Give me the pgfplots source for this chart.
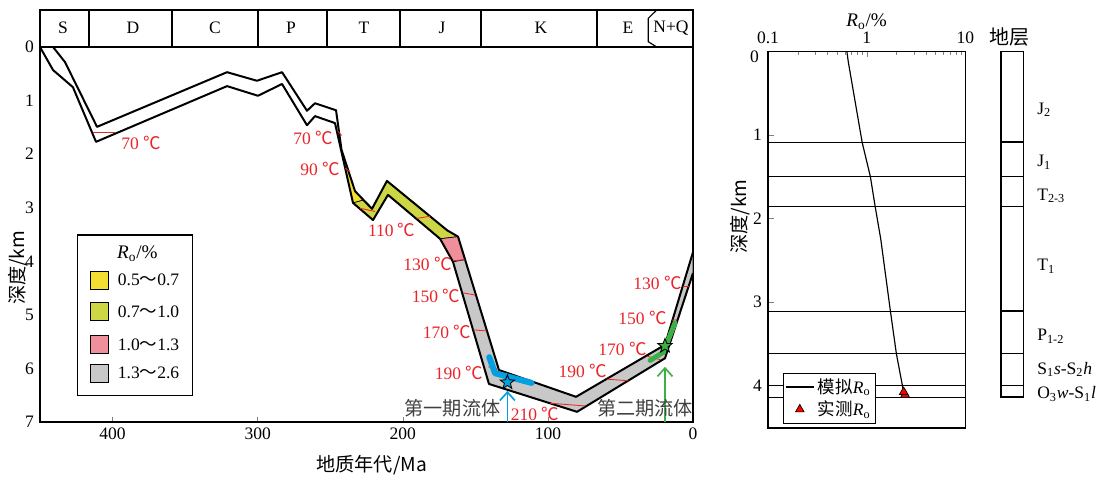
\documentclass[border=0pt]{standalone}
\usepackage{fontspec}
\setmainfont{Liberation Serif}
\newfontfamily\cjk{Noto Sans CJK SC}
\usepackage{pgfplots}
\pgfplotsset{compat=1.18}
\usetikzlibrary{arrows.meta}

\definecolor{ryel}{RGB}{245,222,50}
\definecolor{rolive}{RGB}{205,214,68}
\definecolor{rpink}{RGB}{238,143,155}
\definecolor{rgrey}{RGB}{200,200,200}
\definecolor{tred}{RGB}{235,35,40}
\definecolor{fblue}{RGB}{0,160,225}
\definecolor{fgreen}{RGB}{60,175,70}

\newcommand{\dc}{\ {\cjk ℃}}
\newcommand{\Ro}{\textit{R}\textsubscript{o}}

% filled five-point star
\pgfdeclareplotmark{fstar}{%
  \pgfpathmoveto{\pgfpointpolar{90}{\pgfplotmarksize}}%
  \pgfpathlineto{\pgfpointpolar{126}{0.42\pgfplotmarksize}}%
  \pgfpathlineto{\pgfpointpolar{162}{\pgfplotmarksize}}%
  \pgfpathlineto{\pgfpointpolar{198}{0.42\pgfplotmarksize}}%
  \pgfpathlineto{\pgfpointpolar{234}{\pgfplotmarksize}}%
  \pgfpathlineto{\pgfpointpolar{270}{0.42\pgfplotmarksize}}%
  \pgfpathlineto{\pgfpointpolar{306}{\pgfplotmarksize}}%
  \pgfpathlineto{\pgfpointpolar{342}{0.42\pgfplotmarksize}}%
  \pgfpathlineto{\pgfpointpolar{18}{\pgfplotmarksize}}%
  \pgfpathlineto{\pgfpointpolar{54}{0.42\pgfplotmarksize}}%
  \pgfpathclose\pgfusepathqfillstroke}

\begin{document}
\fontsize{10.5}{12}\selectfont
\begin{tikzpicture}[every node/.style={font=\fontsize{10.5}{12}\selectfont}]
\path (0,0) rectangle (662.4pt,286.8pt);

% ---------------- burial history ----------------
\begin{axis}[
  at={(24pt,33.6pt)}, anchor=south west, scale only axis,
  width=391.8pt, height=247.2pt,
  xmin=0, xmax=450, x dir=reverse,
  ymin=-0.691, ymax=7, y dir=reverse,
  xtick={0,100,200,300,400}, ytick={0,1,...,7},
  xtick pos=left, xticklabel pos=left, ytick pos=left,
  tick align=inside, major tick length=3pt,
  ytick style={draw=none},
  axis line style={line width=0.9pt},
  tick label style={font=\fontsize{10.5}{12}\selectfont},
  /pgf/number format/assume math mode=true,
  clip=false,
]
% stratigraphic band
\draw[line width=0.9pt] (axis cs:450,0) -- (axis cs:0,0);
\draw[line width=0.9pt] (axis cs:416.2,-0.691) -- (axis cs:416.2,0);
\draw[line width=0.9pt] (axis cs:359.0,-0.691) -- (axis cs:359.0,0);
\draw[line width=0.9pt] (axis cs:299.8,-0.691) -- (axis cs:299.8,0);
\draw[line width=0.9pt] (axis cs:252.2,-0.691) -- (axis cs:252.2,0);
\draw[line width=0.9pt] (axis cs:201.9,-0.691) -- (axis cs:201.9,0);
\draw[line width=0.9pt] (axis cs:146.1,-0.691) -- (axis cs:146.1,0);
\draw[line width=0.9pt] (axis cs:66.2,-0.691) -- (axis cs:66.2,0);
\draw[line width=0.7pt] (axis cs:25.0,-0.691) -- (axis cs:30.8,-0.536) -- (axis cs:30.8,-0.099) -- (axis cs:25.0,0);
\node at (axis cs:434.1,-0.355) {S};
\node at (axis cs:385.9,-0.355) {D};
\node at (axis cs:329.4,-0.355) {C};
\node at (axis cs:277.0,-0.355) {P};
\node at (axis cs:226.7,-0.355) {T};
\node at (axis cs:173.0,-0.355) {J};
\node at (axis cs:104.7,-0.355) {K};
\node at (axis cs:44.8,-0.355) {E};
\node at (axis cs:15.2,-0.355) {N+Q};

% Ro colour zones
\addplot[fill=ryel, draw=black, line width=0.4pt] coordinates {
  (242.7,1.90) (241.5,1.98) (232.9,2.69) (227.4,2.86) (234.3,2.91)} -- cycle;
\addplot[fill=rolive, draw=black, line width=0.4pt] coordinates {
  (227.4,2.86) (221.2,3.02) (210.9,2.50) (169.5,3.42) (161.9,3.54)
  (174.3,3.58) (210.2,2.76) (220.5,3.23) (234.3,2.91)} -- cycle;
\addplot[fill=rpink, draw=black, line width=0.4pt] coordinates {
  (161.9,3.54) (157.1,3.97) (165.4,4.01) (174.3,3.58)} -- cycle;
\addplot[fill=rgrey, draw=black, line width=0.4pt] coordinates {
  (157.1,3.97) (133.7,6.03) (80.6,6.53) (19.3,5.56) (0,3.83)
  (0,4.22) (19.3,5.81) (79.9,6.81) (140.6,6.29) (165.4,4.01)} -- cycle;

% burial curves
\addplot[line width=1.2pt, line join=round] coordinates {
  (441.0,0) (432.8,0.28) (410.7,1.49) (321.1,0.47) (300.5,0.63) (283.2,0.47)
  (266.0,1.19) (260.5,1.05) (246.0,1.18) (242.2,1.92) (232.9,2.69) (221.2,3.02)
  (210.9,2.50) (169.5,3.42) (161.9,3.54) (133.7,6.03) (80.6,6.53) (19.3,5.56) (0,3.83)};
\addplot[line width=1.2pt, line join=round] coordinates {
  (450,0) (441.0,0.43) (427.3,0.75) (411.4,1.77) (321.1,0.73) (299.8,0.91)
  (283.2,0.69) (266.0,1.46) (260.5,1.29) (246.7,1.42) (234.3,2.91) (220.5,3.23)
  (210.2,2.76) (174.3,3.58) (165.4,4.01) (140.6,6.29) (79.9,6.81) (19.3,5.81) (0,4.22)};

% isotherms
\addplot[tred, line width=0.5pt] coordinates {(413.7,1.59) (398.3,1.59)};
\addplot[tred, line width=0.5pt] coordinates {(244.9,1.57) (242.1,1.65)};
\addplot[tred, line width=0.5pt] coordinates {(239.8,2.26) (236.4,2.33)};
\addplot[tred, line width=0.5pt] coordinates {(229.5,3.01) (219.1,3.07)};
\addplot[tred, line width=0.5pt] coordinates {(190.4,3.20) (181.2,3.16)};
\addplot[tred, line width=0.5pt] coordinates {(165.2,3.99) (157.1,3.97)};
\addplot[tred, line width=0.5pt] coordinates {(158.3,4.59) (150.2,4.63)};
\addplot[tred, line width=0.5pt] coordinates {(151.4,5.28) (142.2,5.30)};
\addplot[tred, line width=0.5pt] coordinates {(141.1,5.97) (134.2,6.01)};
\addplot[tred, line width=0.5pt] coordinates {(98.5,6.65) (74.4,6.70)};
\addplot[tred, line width=0.5pt] coordinates {(59.5,6.20) (44.6,6.23)};
\addplot[tred, line width=0.5pt] coordinates {(31.9,5.77) (22.0,5.84)};
\addplot[tred, line width=0.5pt] coordinates {(14.3,5.10) (10.8,5.09)};
\addplot[tred, line width=0.5pt] coordinates {(7.0,4.46) (2.9,4.46)};

\node[text=tred] at (axis cs:380.4,1.79) {70\dc};
\node[text=tred] at (axis cs:261.9,1.69) {70\dc};
\node[text=tred] at (axis cs:257.0,2.28) {90\dc};
\node[text=tred] at (axis cs:207.6,3.42) {110\dc};
\node[text=tred] at (axis cs:183.0,4.05) {130\dc};
\node[text=tred] at (axis cs:177.1,4.65) {150\dc};
\node[text=tred] at (axis cs:169.5,5.32) {170\dc};
\node[text=tred] at (axis cs:161.3,6.09) {190\dc};
\node[text=tred] at (axis cs:108.9,6.85) {210\dc};
\node[text=tred] at (axis cs:76.1,6.05) {190\dc};
\node[text=tred] at (axis cs:48.6,5.64) {170\dc};
\node[text=tred] at (axis cs:34.8,5.06) {150\dc};
\node[text=tred] at (axis cs:24.5,4.40) {130\dc};

% fluid events
\addplot[fblue, line width=3.6pt, line cap=round, line join=round] coordinates {
  (140.4,5.79) (136.4,6.09) (111.2,6.27)};
\addplot[fgreen, line width=3pt, line cap=round, line join=round] coordinates {
  (29.6,5.85) (20.5,5.70) (12.4,5.15)};
\addplot[fblue, line width=1pt, -{Straight Barb[length=5pt,width=9pt]}] coordinates {(127.9,7) (127.9,6.42)};
\addplot[fgreen, line width=1pt, -{Straight Barb[length=5pt,width=9pt]}] coordinates {(19.3,7) (19.3,5.97)};
\addplot[only marks, mark=fstar, mark size=4.5pt, mark options={fill=fblue, draw=black, line width=0.5pt}] coordinates {(127.9,6.26)};
\addplot[only marks, mark=fstar, mark size=4.5pt, mark options={fill=fgreen, draw=black, line width=0.5pt}] coordinates {(19.3,5.58)};
\node[text=black!75, font=\cjk\fontsize{11.5}{13}\selectfont] at (axis cs:165.7,6.74) {第一期流体};
\node[text=black!75, font=\cjk\fontsize{11.5}{13}\selectfont] at (axis cs:33.1,6.74) {第二期流体};

% legend
\draw[line width=0.7pt, fill=white] (axis cs:424.3,3.51) rectangle (axis cs:345.0,6.51);
\node[font=\fontsize{11.5}{13}\selectfont] at (axis cs:382.9,3.85) {\Ro/\%};
\draw[fill=ryel] (axis cs:415.1,4.18) rectangle (axis cs:402.9,4.52);
\draw[fill=rolive] (axis cs:415.1,4.77) rectangle (axis cs:402.9,5.11);
\draw[fill=rpink] (axis cs:415.1,5.38) rectangle (axis cs:402.9,5.72);
\draw[fill=rgrey] (axis cs:415.1,5.92) rectangle (axis cs:402.9,6.26);
\node[anchor=west] at (axis cs:400.5,4.35) {0.5{\cjk ～}0.7};
\node[anchor=west] at (axis cs:400.5,4.94) {0.7{\cjk ～}1.0};
\node[anchor=west] at (axis cs:400.5,5.55) {1.0{\cjk ～}1.3};
\node[anchor=west] at (axis cs:400.5,6.09) {1.3{\cjk ～}2.6};

\node[rotate=90, font=\cjk\fontsize{11.5}{13}\selectfont] at (axis description cs:-0.034,0.374) {深度/km};
\node[font=\cjk\fontsize{11.5}{13}\selectfont] at (axis description cs:0.508,-0.104) {地质年代/Ma};
\end{axis}

% ---------------- Ro profile ----------------
\begin{axis}[
  at={(460.8pt,30pt)}, anchor=south west, scale only axis,
  width=118.4pt, height=226pt,
  xmode=log, xmin=0.1, xmax=10,
  ymin=0, ymax=4.51, y dir=reverse,
  xtick={0.1,1,10}, xticklabels={0.1,1,10}, ytick={1,2,3,4},
  xtick pos=right, xticklabel pos=right, ytick pos=left,
  tick align=inside, major tick length=3.5pt, minor tick length=2pt,
  axis line style={line width=0.9pt},
  tick label style={font=\fontsize{10.5}{12}\selectfont},
  xticklabel style={yshift=1pt},
  /pgf/number format/assume math mode=true,
  clip=false,
  legend style={at={(axis description cs:0.076,0.146)}, anchor=north west,
    draw=black, font=\fontsize{10.5}{12}\selectfont, inner sep=1pt, row sep=-1pt},
  legend cell align=left,
]
\addplot[forget plot, line width=0.6pt] coordinates {(0.1,1.087) (10,1.087)};
\addplot[forget plot, line width=0.6pt] coordinates {(0.1,1.50) (10,1.50)};
\addplot[forget plot, line width=0.6pt] coordinates {(0.1,1.86) (10,1.86)};
\addplot[forget plot, line width=0.6pt] coordinates {(0.1,3.11) (10,3.11)};
\addplot[forget plot, line width=0.6pt] coordinates {(0.1,3.62) (10,3.62)};
\addplot[forget plot, line width=0.6pt] coordinates {(0.1,4.00) (10,4.00)};
\addplot[forget plot, line width=0.6pt] coordinates {(0.1,4.14) (10,4.14)};
\addplot[black, line width=0.7pt] coordinates {
  (0.63,0) (0.65,0.12) (0.90,1.09) (1.09,1.50) (1.22,1.86) (1.39,2.25)
  (1.74,3.11) (2.0,3.62) (2.37,4.08)};
\addlegendentry{{\cjk 模拟}\Ro}
\addplot[only marks, mark=triangle*, mark size=3pt, mark options={fill=red, draw=black, line width=0.4pt}]
  coordinates {(2.45,4.11) (2.37,4.08)};
\addlegendentry{{\cjk 实测}\Ro}
\node[anchor=east] at (axis description cs:-0.015,0.985) {0};
\node[rotate=90, font=\cjk\fontsize{11.5}{13}\selectfont] at (axis description cs:-0.143,0.561) {深度/km};
\node[font=\fontsize{11.5}{13}\selectfont] at (axis description cs:0.5,1.079) {\Ro/\%};
\end{axis}

% ---------------- strata column ----------------
\begin{axis}[
  at={(600.6pt,30pt)}, anchor=south west, scale only axis,
  width=13.4pt, height=226pt,
  xmin=0, xmax=1, ymin=0, ymax=4.51, y dir=reverse,
  hide axis, clip=false,
]
\draw[line width=0.9pt] (axis cs:0,0) rectangle (axis cs:1,4.14);
\addplot[line width=0.9pt] coordinates {(0,1.087) (1,1.087)};
\addplot[line width=0.9pt] coordinates {(0,1.50) (1,1.50)};
\addplot[line width=0.9pt] coordinates {(0,1.86) (1,1.86)};
\addplot[line width=0.9pt] coordinates {(0,3.11) (1,3.11)};
\addplot[line width=0.9pt] coordinates {(0,3.62) (1,3.62)};
\addplot[line width=0.9pt] coordinates {(0,4.00) (1,4.00)};
\node[font=\cjk\fontsize{12}{14}\selectfont] at (axis cs:0.40,-0.17) {地层};
\node[anchor=west] at (axis cs:1.35,0.70) {J\textsubscript{2}};
\node[anchor=west] at (axis cs:1.35,1.33) {J\textsubscript{1}};
\node[anchor=west] at (axis cs:1.35,1.73) {T\textsubscript{2-3}};
\node[anchor=west] at (axis cs:1.35,2.57) {T\textsubscript{1}};
\node[anchor=west] at (axis cs:1.35,3.41) {P\textsubscript{1-2}};
\node[anchor=west] at (axis cs:1.35,3.81) {S\textsubscript{1}\textit{s}-S\textsubscript{2}\textit{h}};
\node[anchor=west] at (axis cs:1.35,4.10) {O\textsubscript{3}\textit{w}-S\textsubscript{1}\textit{l}};
\end{axis}
\end{tikzpicture}
\end{document}
